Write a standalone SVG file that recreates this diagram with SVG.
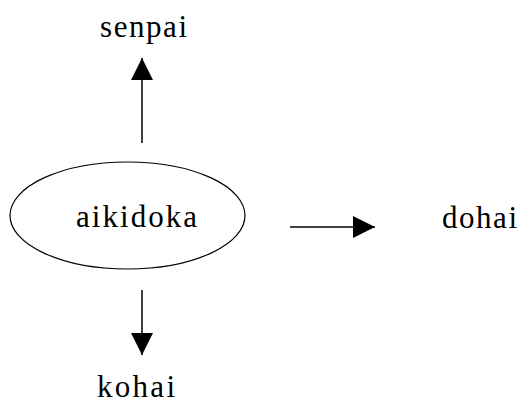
<svg xmlns="http://www.w3.org/2000/svg" width="522" height="403" viewBox="0 0 522 403">
<style>
text{font-family:"Liberation Serif","Times New Roman",serif;font-size:31px;fill:#000}
.c{stroke:#000;stroke-width:1.5;fill:none}
</style>
<defs>
<marker id="ah" markerWidth="22" markerHeight="22" viewBox="0 0 22 22" refX="22" refY="11" orient="auto" markerUnits="userSpaceOnUse">
<path d="M0,0 L22,11 L0,22 Z" fill="#000"/>
</marker>
</defs>
<rect width="522" height="403" fill="#fff"/>
<g id="aikidoka">
<ellipse cx="127.5" cy="215.5" rx="117.5" ry="53.5" fill="none" stroke="#000" stroke-width="1.2"/>
<text x="76" y="227" textLength="121" lengthAdjust="spacing">aikidoka</text>
</g>
<g id="senpai"><text x="100" y="37" textLength="87" lengthAdjust="spacing">senpai</text></g>
<g id="dohai"><text x="442" y="228" textLength="75" lengthAdjust="spacing">dohai</text></g>
<g id="kohai"><text x="97" y="397" textLength="78" lengthAdjust="spacing">kohai</text></g>
<g id="connectors">
<line class="c" x1="142" y1="143" x2="142" y2="58" marker-end="url(#ah)"/>
<line class="c" x1="290" y1="227" x2="375" y2="227" marker-end="url(#ah)"/>
<line class="c" x1="142" y1="290" x2="142" y2="355" marker-end="url(#ah)"/>
</g>
</svg>
